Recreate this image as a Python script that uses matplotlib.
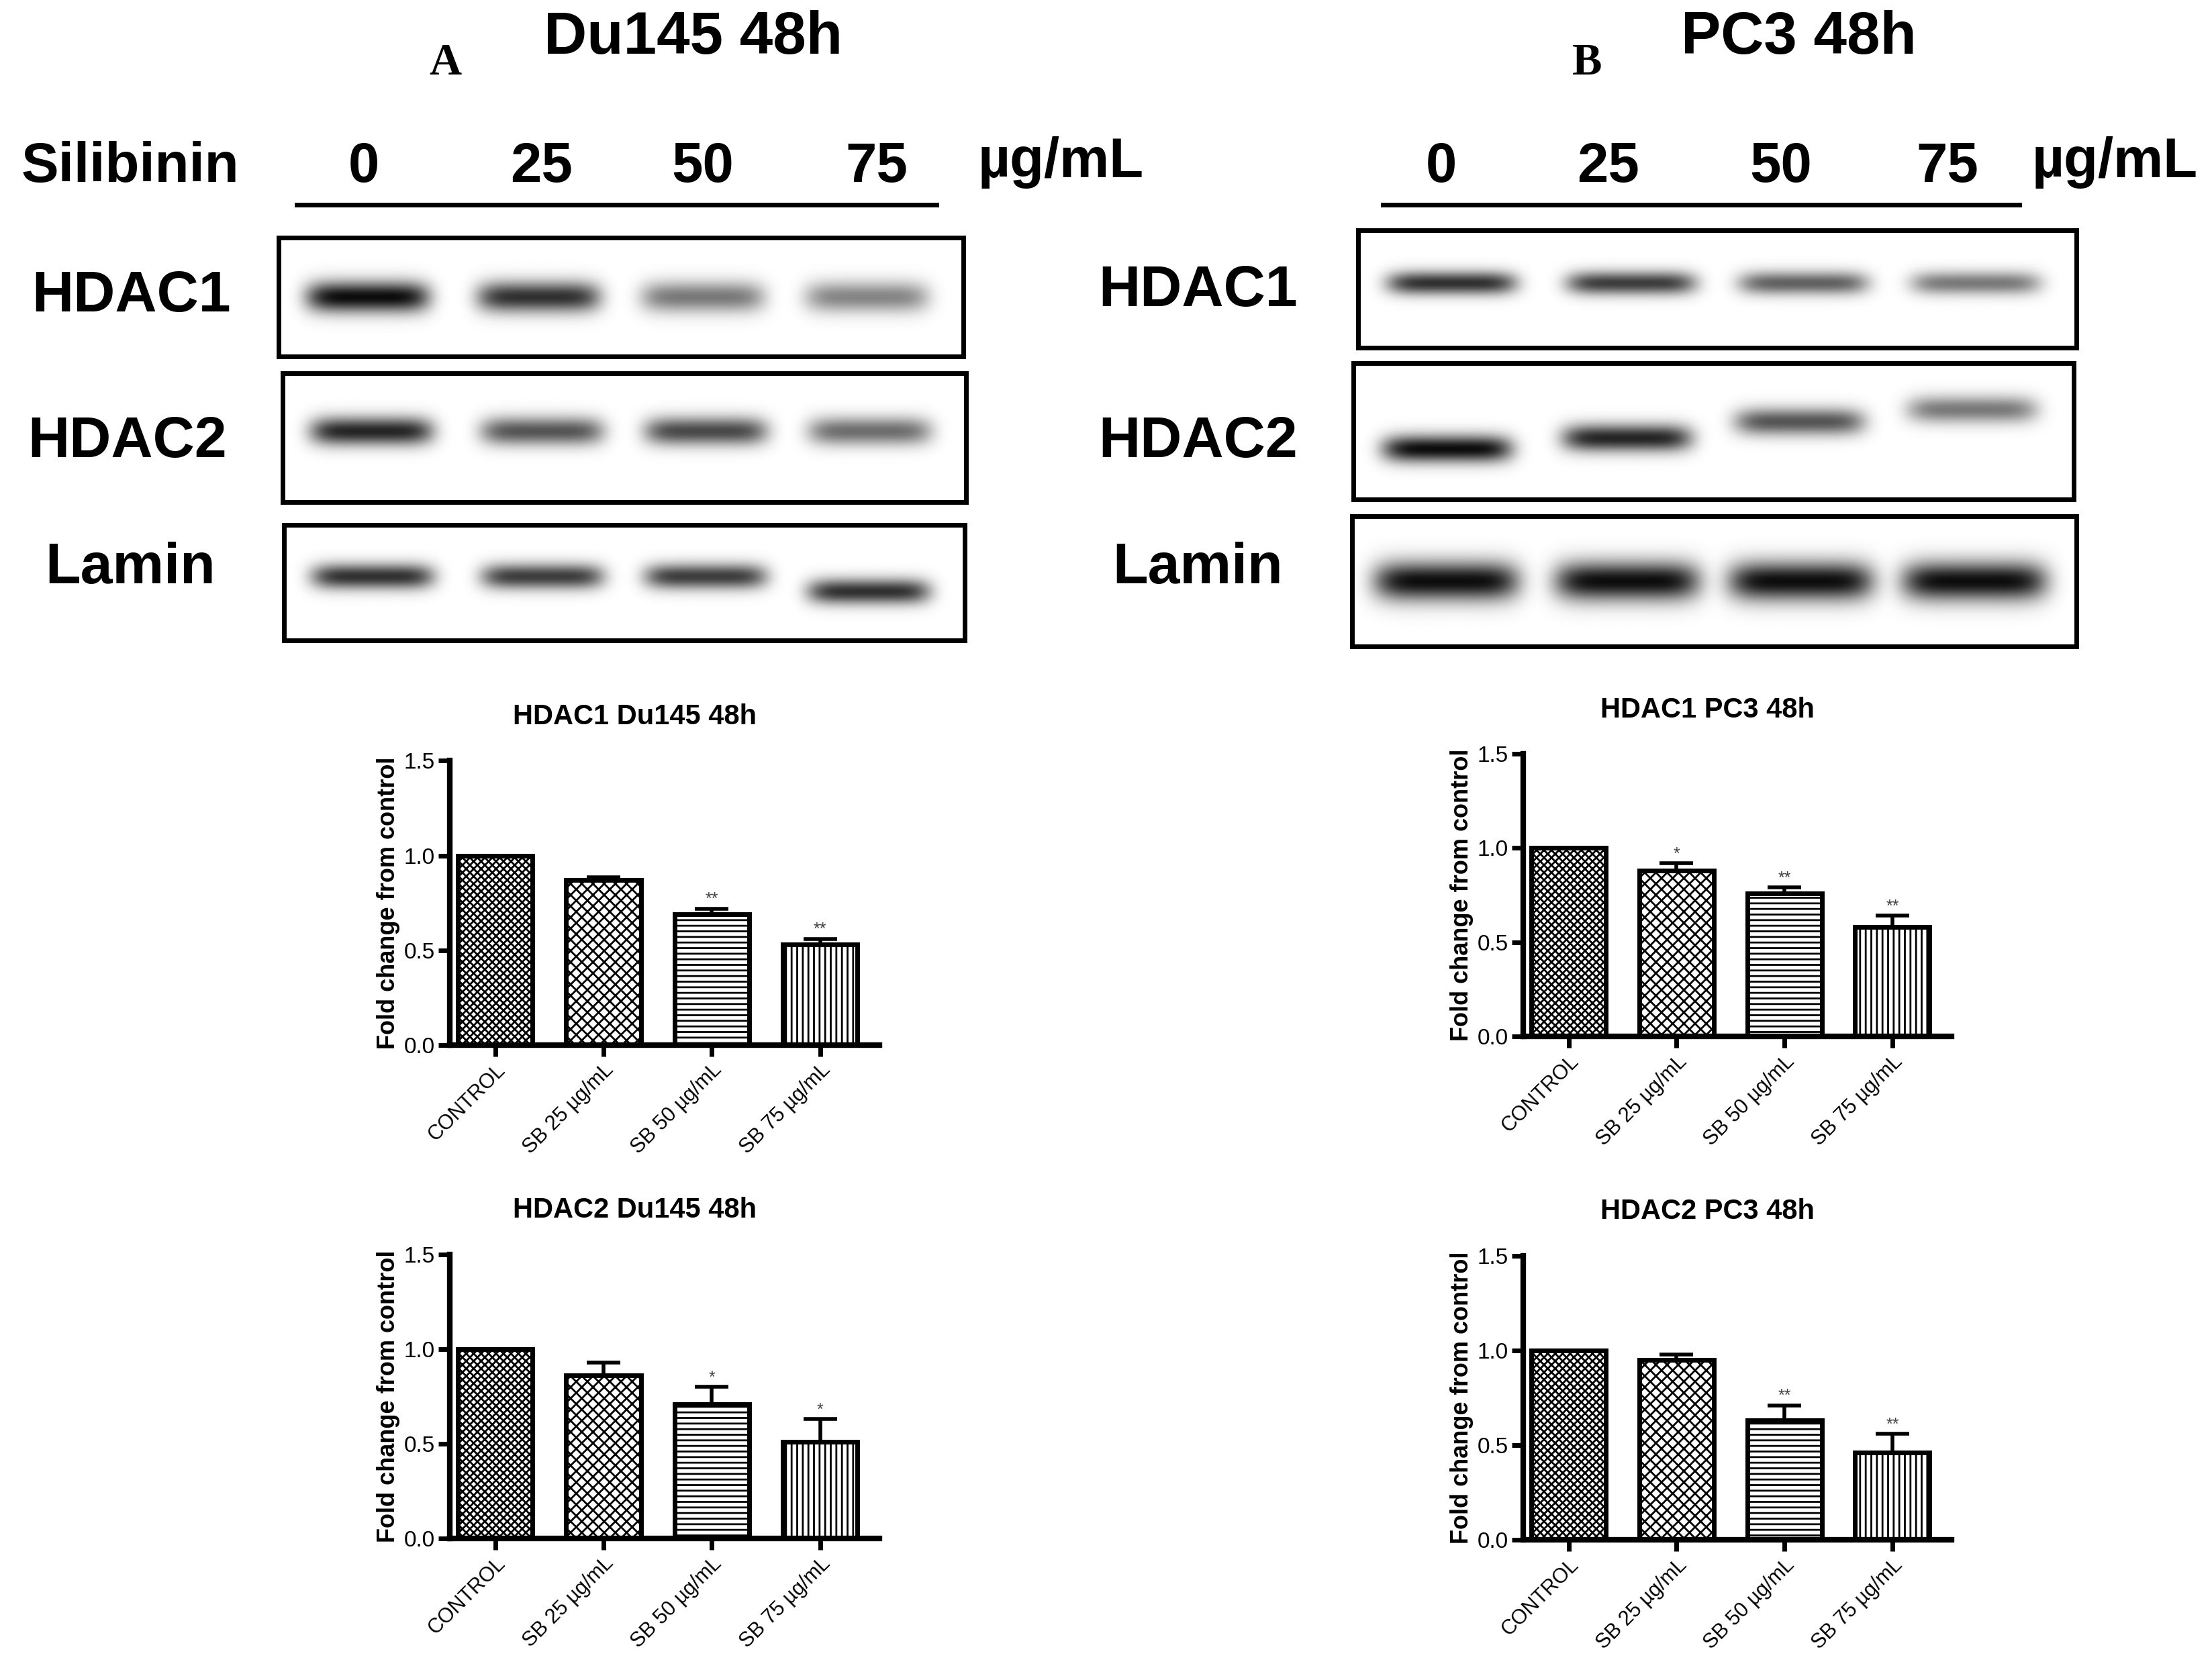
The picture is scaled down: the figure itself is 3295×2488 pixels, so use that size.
import numpy as np
import matplotlib
matplotlib.use("Agg")
import matplotlib.pyplot as plt

plt.rcParams['font.family'] = ['Liberation Sans', 'DejaVu Sans']
plt.rcParams['hatch.linewidth'] = 2.0

W, H = 1564.0, 1181.0
fig = plt.figure(figsize=(32.95, 24.88), dpi=100)

def fx(x): return x / W
def fy(y): return 1 - y / H
def box(x0, y0, x1, y1): return [fx(x0), fy(y1), fx(x1) - fx(x0), (y1 - y0) / H]

# ---- data ----
doses = ["0", "25", "50", "75"]
categories = ["CONTROL", "SB 25 µg/mL", "SB 50 µg/mL", "SB 75 µg/mL"]
hdac1_du145 = [1.0, 0.87, 0.69, 0.53]
hdac1_du145_err = [0.0, 0.015, 0.03, 0.03]
hdac1_du145_sig = ["", "", "**", "**"]
hdac2_du145 = [1.0, 0.86, 0.71, 0.51]
hdac2_du145_err = [0.0, 0.07, 0.09, 0.12]
hdac2_du145_sig = ["", "", "*", "*"]
hdac1_pc3 = [1.0, 0.88, 0.76, 0.58]
hdac1_pc3_err = [0.0, 0.04, 0.03, 0.06]
hdac1_pc3_sig = ["", "*", "**", "**"]
hdac2_pc3 = [1.0, 0.95, 0.63, 0.46]
hdac2_pc3_err = [0.0, 0.03, 0.08, 0.10]
hdac2_pc3_sig = ["", "", "**", "**"]

# band intensities per lane (blot)
band_du145_hdac1 = [1.0, 0.85, 0.55, 0.5]
band_du145_hdac2 = [0.9, 0.7, 0.75, 0.6]
band_du145_lamin = [0.85, 0.8, 0.8, 0.85]
band_pc3_hdac1 = [0.85, 0.8, 0.65, 0.55]
band_pc3_hdac2 = [1.0, 0.9, 0.7, 0.55]
band_pc3_lamin = [1.0, 1.0, 1.0, 1.0]

hatches = ['xxx', 'xx', '--', '||']

# ---- headers ----
fig.text(fx(315), fy(45), "A", family="Liberation Serif", weight="bold", fontsize=48, ha="center", va="center")
fig.text(fx(490), fy(27), "Du145 48h", weight="bold", fontsize=64, ha="center", va="center")
fig.text(fx(1122), fy(45), "B", family="Liberation Serif", weight="bold", fontsize=48, ha="center", va="center")
fig.text(fx(1272), fy(27), "PC3 48h", weight="bold", fontsize=64, ha="center", va="center")
fig.text(fx(92), fy(118), "Silibinin", weight="bold", fontsize=60, ha="center", va="center")
for x, d in zip([257, 383, 497, 620], doses):
    fig.text(fx(x), fy(118), d, weight="bold", fontsize=60, ha="center", va="center")
for x, d in zip([1019, 1137, 1259, 1377], doses):
    fig.text(fx(x), fy(118), d, weight="bold", fontsize=60, ha="center", va="center")
fig.text(fx(750), fy(115), "µg/mL", weight="bold", fontsize=60, ha="center", va="center")
fig.text(fx(1495), fy(115), "µg/mL", weight="bold", fontsize=60, ha="center", va="center")
fig.add_artist(plt.Line2D([fx(210), fx(662)], [fy(145), fy(145)], color="black", lw=5))
fig.add_artist(plt.Line2D([fx(978), fx(1428)], [fy(145), fy(145)], color="black", lw=5))

# ---- blots ----
def blot(rect, ints, ys, thick=0.12, width=0.09):
    ax = fig.add_axes(rect)
    xs = np.linspace(0, 1, 600)
    yy = np.linspace(0, 1, 200)
    X, Y = np.meshgrid(xs, yy)
    img = np.zeros_like(X)
    for c, v, yc in zip([0.13, 0.38, 0.62, 0.86], ints, ys):
        img += v * np.exp(-((X - c) / width) ** 6) * np.exp(-((Y - yc) / thick) ** 2)
    img = np.clip(img, 0, 1)
    ax.imshow(1 - 0.95 * img, cmap="gray", vmin=0, vmax=1, extent=[0, 1, 0, 1],
              origin="lower", aspect="auto")
    ax.set_xticks([]); ax.set_yticks([])
    for s in ax.spines.values():
        s.set_linewidth(5)
    return ax

lab = dict(weight="bold", fontsize=62, ha="center", va="center")
blot(box(197, 168, 681, 252), band_du145_hdac1, [0.5] * 4, thick=0.13)
blot(box(200, 264, 683, 355), band_du145_hdac2, [0.55] * 4, thick=0.11)
blot(box(201, 371, 682, 453), band_du145_lamin, [0.55, 0.55, 0.55, 0.42], thick=0.11)
fig.text(fx(93), fy(210), "HDAC1", **lab)
fig.text(fx(90), fy(313), "HDAC2", **lab)
fig.text(fx(92), fy(402), "Lamin", **lab)

blot(box(960, 163, 1468, 246), band_pc3_hdac1, [0.55] * 4, thick=0.1)
blot(box(957, 257, 1466, 353), band_pc3_hdac2, [0.37, 0.45, 0.57, 0.66], thick=0.1)
blot(box(956, 365, 1468, 457), band_pc3_lamin, [0.5] * 4, thick=0.15, width=0.1)
fig.text(fx(847), fy(206), "HDAC1", **lab)
fig.text(fx(847), fy(313), "HDAC2", **lab)
fig.text(fx(847), fy(402), "Lamin", **lab)

# ---- bar charts ----
def bars(rect, vals, errs, sigs, title, ty):
    ax = fig.add_axes(rect)
    x = np.arange(len(vals))
    ax.bar(x, vals, width=0.69, color="white", edgecolor="black", linewidth=5, hatch=hatches)
    for xi, v, e in zip(x, vals, errs):
        if e > 0:
            ax.errorbar(xi, v, yerr=[[0], [e]], color="black", capsize=18, capthick=4, elinewidth=4)
    for xi, v, e, s in zip(x, vals, errs, sigs):
        if s:
            ax.text(xi, v + e + 0.005, s, ha="center", va="bottom", fontsize=18, color="#444444")
    ax.set_xlim(-0.42, 3.55)
    ax.set_ylim(0, 1.5)
    ax.set_yticks([0, 0.5, 1.0, 1.5])
    ax.set_yticklabels(["0.0", "0.5", "1.0", "1.5"], fontsize=24)
    ax.set_xticks(x)
    ax.set_xticklabels(categories, rotation=45, ha="right", rotation_mode="anchor", fontsize=22)
    ax.set_ylabel("Fold change from control", weight="bold", fontsize=26)
    for s in ["top", "right"]:
        ax.spines[s].set_visible(False)
    for s in ["left", "bottom"]:
        ax.spines[s].set_linewidth(6)
    ax.tick_params(width=5, length=12, pad=4)
    fig.text(rect[0] + rect[2] * 0.43, fy(ty), title, weight="bold", fontsize=30, ha="center", va="center")

bars(box(318, 538, 622, 739), hdac1_du145, hdac1_du145_err, hdac1_du145_sig, "HDAC1 Du145 48h", 507)
bars(box(318, 887, 622, 1088), hdac2_du145, hdac2_du145_err, hdac2_du145_sig, "HDAC2 Du145 48h", 856)
bars(box(1077, 533, 1380, 733), hdac1_pc3, hdac1_pc3_err, hdac1_pc3_sig, "HDAC1 PC3 48h", 502)
bars(box(1077, 888, 1380, 1089), hdac2_pc3, hdac2_pc3_err, hdac2_pc3_sig, "HDAC2 PC3 48h", 857)

fig.savefig("out.png", dpi=100, facecolor="white")
